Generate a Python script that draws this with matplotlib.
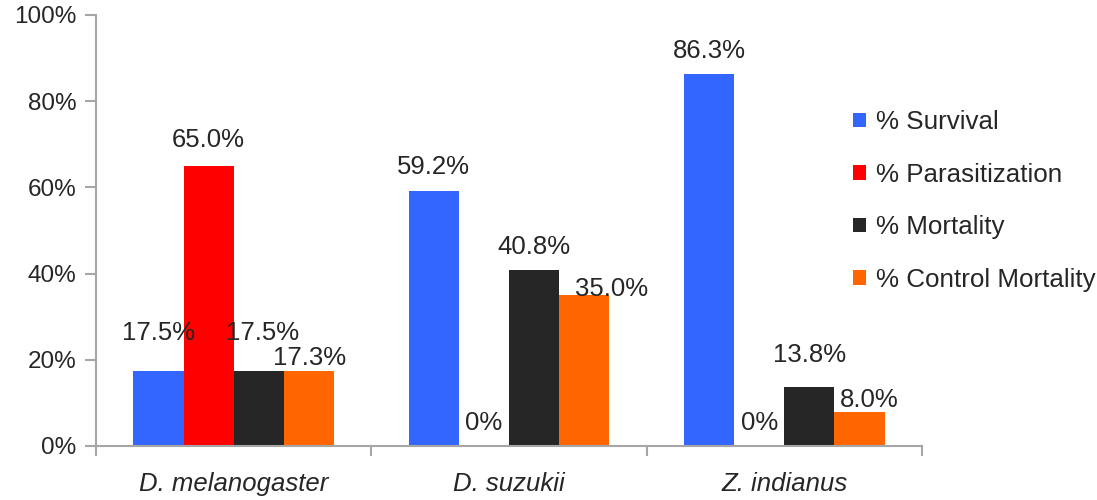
import numpy as np
import matplotlib
matplotlib.use("Agg")
import matplotlib.pyplot as plt
from matplotlib.ticker import FixedLocator

# chart values (percent)
species = ["D. melanogaster", "D. suzukii", "Z. indianus"]
series_names = ["% Survival", "% Parasitization", "% Mortality", "% Control Mortality"]
survival = [17.5, 59.2, 86.3]
parasitization = [65.0, 0.0, 0.0]
mortality = [17.5, 40.8, 13.8]
control_mortality = [17.3, 35.0, 8.0]
yticks = [0, 20, 40, 60, 80, 100]

colors = ["#3366FF", "#FF0000", "#262626", "#FF6600"]
# label nudges in pixels (dx, dy above bar top), mimicking the original layout
nudge = [
    [(0, 26), (0, 12), (0, 11)],
    [(0, 14), (0, 11), (0, 11)],
    [(4, 26), (0, 11), (0, 20)],
    [(1, 1), (27, -6), (10, 0)],
]

plt.rcParams['font.family'] = ['Liberation Sans', 'DejaVu Sans']
fig = plt.figure(figsize=(10.97, 5.0), dpi=100)
ax = fig.add_axes([96 / 1097, 54 / 500, (922 - 96) / 1097, (446 - 15) / 500])

axis_gray = "#A6A6A6"
txt = "#262626"
x = np.arange(len(species))
w = 0.182
data = [survival, parasitization, mortality, control_mortality]
for i, (vals, name, c) in enumerate(zip(data, series_names, colors)):
    pos = x + (i - 1.5) * w
    ax.bar(pos, vals, width=w, color=c, label=name, edgecolor="none")
    for j, (px, v) in enumerate(zip(pos, vals)):
        lab = "0%" if v == 0 else f"{v:.1f}%"
        dx, dy = nudge[i][j]
        ax.annotate(lab, (px, v), xytext=(dx, dy), textcoords="offset pixels",
                    ha="center", va="bottom", fontsize=18.5, color=txt)

ax.set_xlim(-0.5, 2.5)
ax.set_ylim(0, 100)
ax.set_yticks(yticks)
ax.set_yticklabels([f"{t}%" for t in yticks])
ax.set_xticks(x)
ax.set_xticklabels(species, style="italic")
ax.xaxis.set_minor_locator(FixedLocator([-0.5, 0.5, 1.5, 2.5]))
ax.tick_params(axis="x", which="major", length=0, pad=19, labelsize=18.5, labelcolor=txt)
ax.tick_params(axis="x", which="minor", length=7, width=1.5, color=axis_gray)
ax.tick_params(axis="y", length=8, width=1.5, color=axis_gray, labelsize=17.5,
               labelcolor=txt, pad=6)
for s in ["top", "right"]:
    ax.spines[s].set_visible(False)
for s in ["left", "bottom"]:
    ax.spines[s].set_color(axis_gray)
    ax.spines[s].set_linewidth(1.5)
ax.spines["left"].set_zorder(0)

fig.legend(loc="center left", bbox_to_anchor=(853 / 1097, 1 - 201 / 500),
           frameon=False, fontsize=18.7, handlelength=0.5, handleheight=0.5,
           handletextpad=0.4, labelspacing=1.1, borderpad=0, borderaxespad=0,
           labelcolor=txt)

fig.savefig("out.png", dpi=100)
